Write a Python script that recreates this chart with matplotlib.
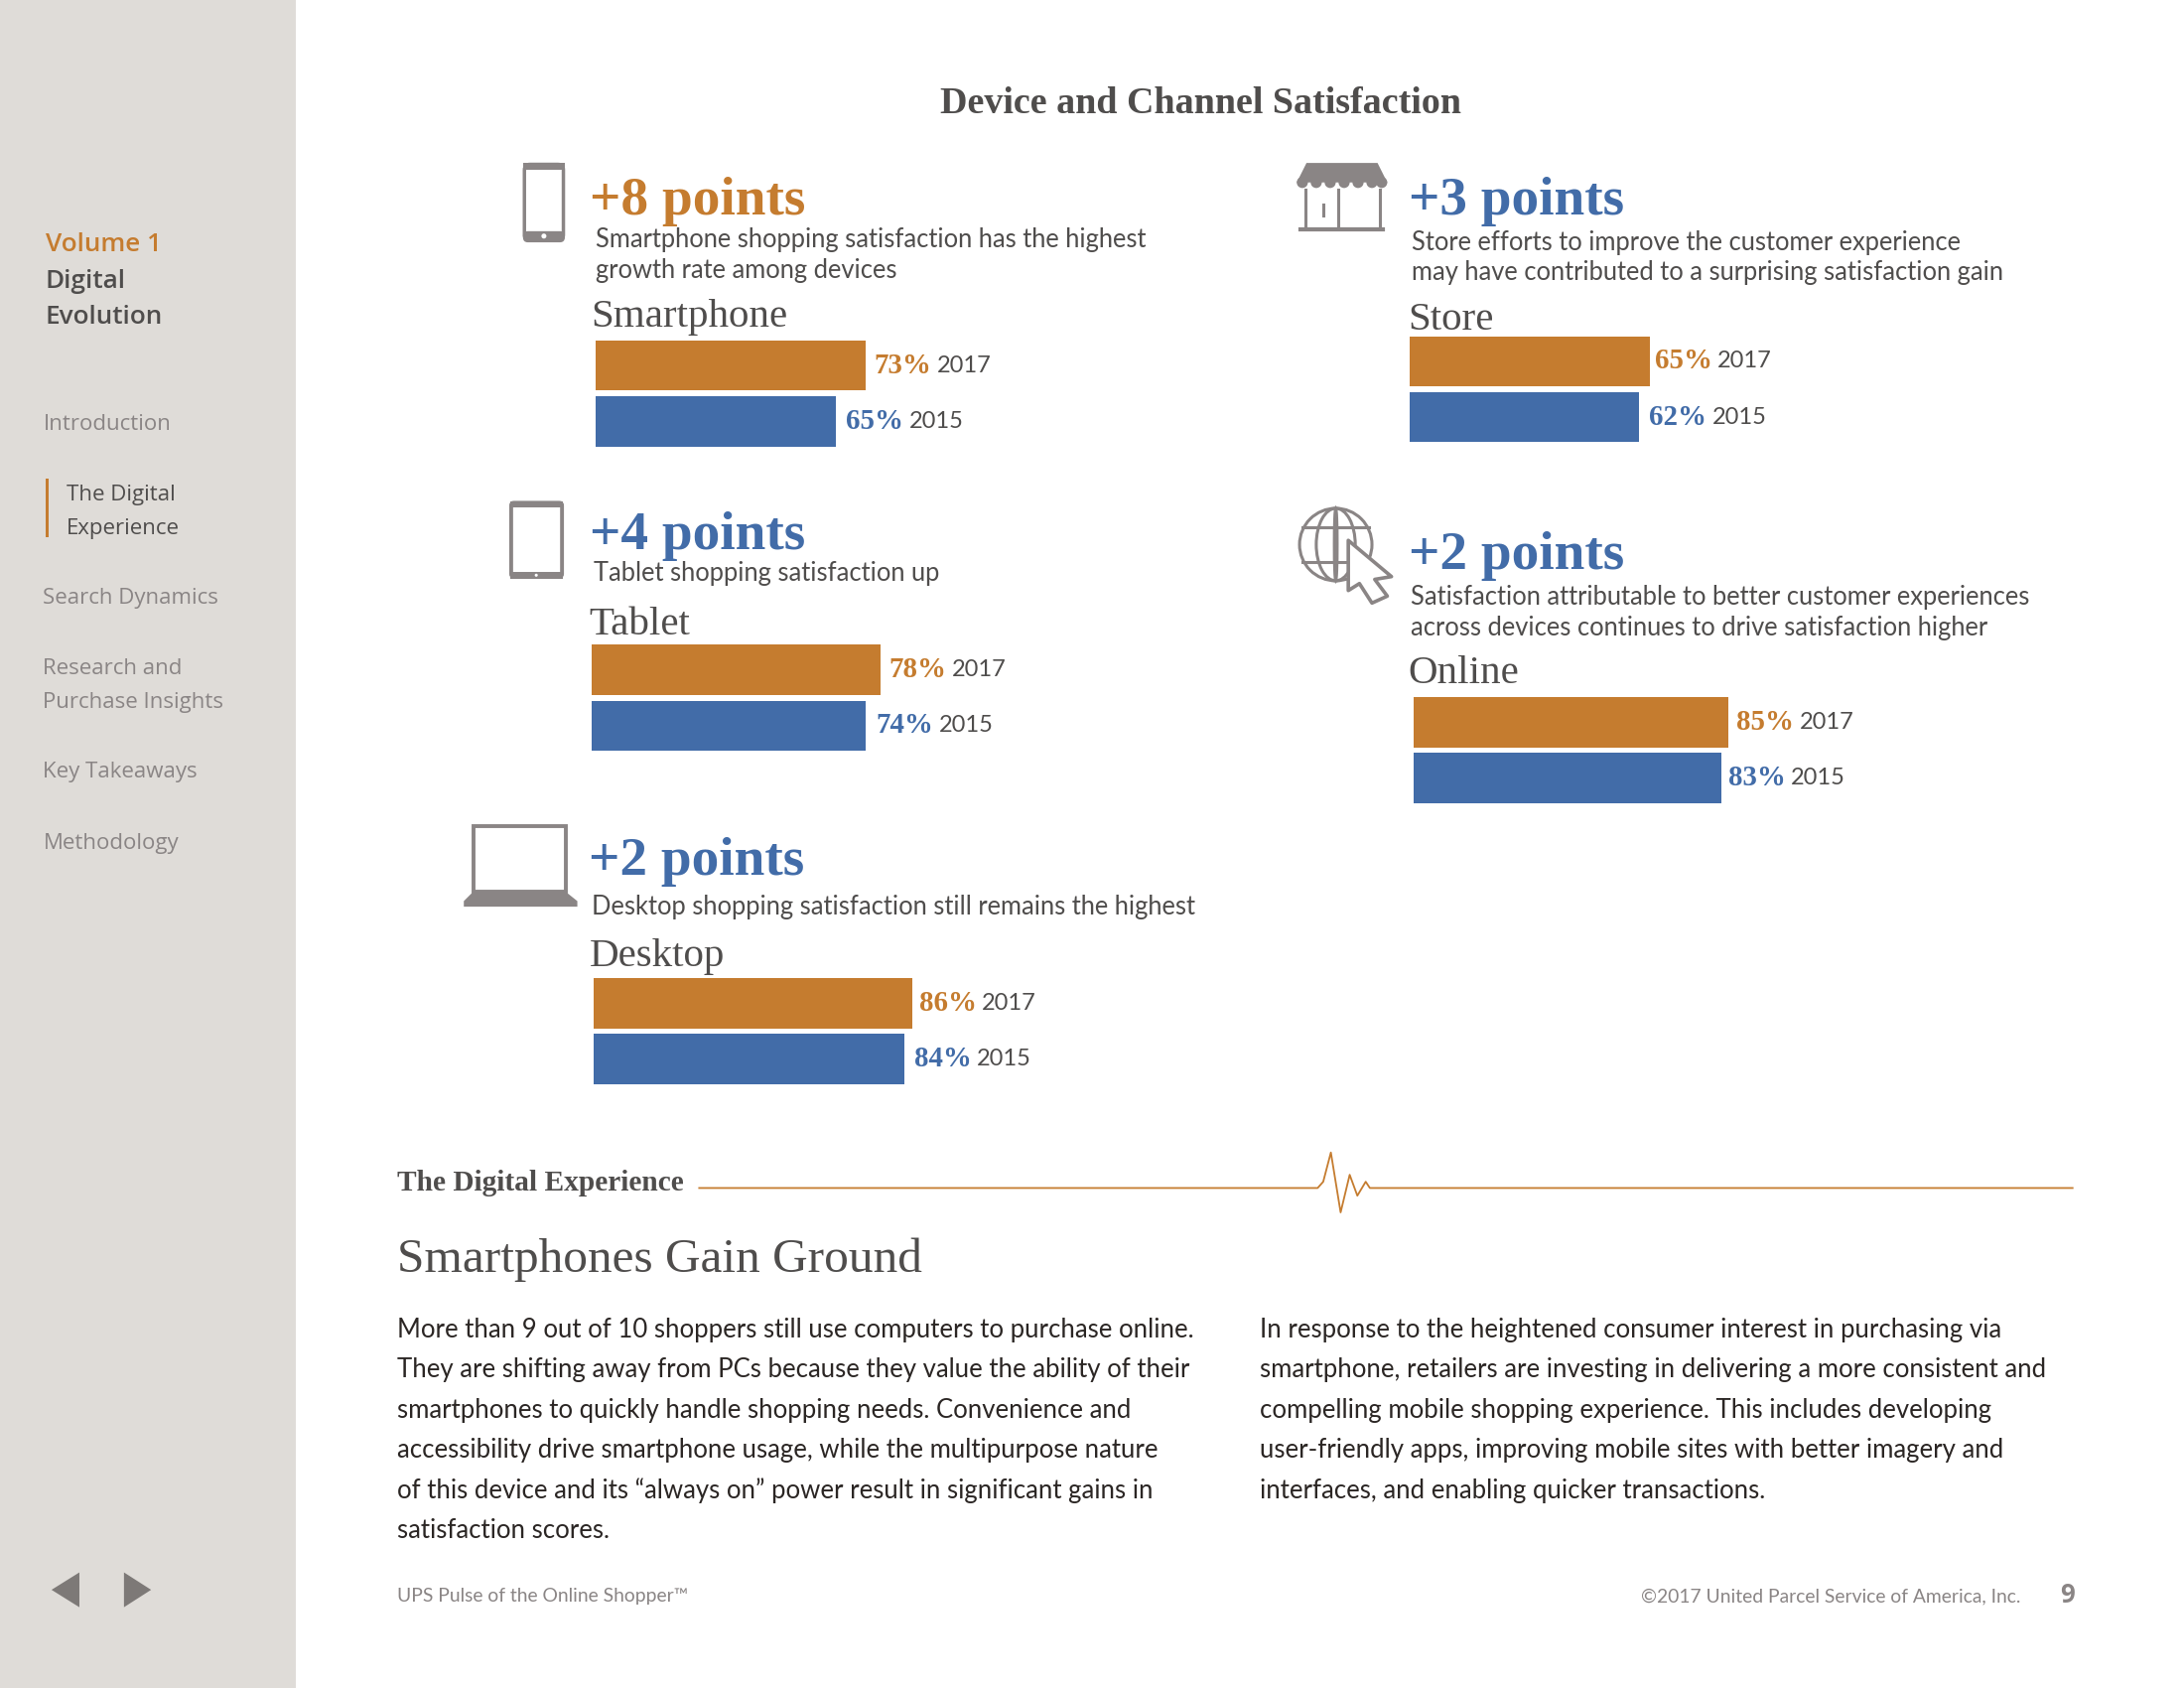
import matplotlib
matplotlib.use('Agg')
import matplotlib.pyplot as plt
from matplotlib.patches import Rectangle, FancyBboxPatch, Polygon, Circle, Ellipse

ORANGE = '#c57c2f'
BLUE = '#426ca8'
GREY = '#8a8585'
DARK = '#4f4d4c'
SERIF = 'Liberation Serif'
SANS = 'Lato'
SIDE = 'Open Sans'

# 数据
panels = ['Smartphone', 'Tablet', 'Desktop', 'Store', 'Online']
values_2017 = [73, 78, 86, 65, 85]
values_2015 = [65, 74, 84, 62, 83]
year_labels = ['2017', '2015']
gains = ['+8 points', '+4 points', '+2 points', '+3 points', '+2 points']
gain_colors = [ORANGE, BLUE, BLUE, BLUE, BLUE]
descriptions = [
    ['Smartphone shopping satisfaction has the highest', 'growth rate among devices'],
    ['Tablet shopping satisfaction up'],
    ['Desktop shopping satisfaction still remains the highest'],
    ['Store efforts to improve the customer experience', 'may have contributed to a surprising satisfaction gain'],
    ['Satisfaction attributable to better customer experiences', 'across devices continues to drive satisfaction higher'],
]

# 版面位置（按 1568x1212 的坐标）
bar_left = [427.5, 425, 426, 1012, 1015]
bar_top = [244.5, 463, 702.5, 241.5, 500.5]
gain_xy = [(423.5, 145), (423.5, 385), (422.5, 619), (1011.5, 145), (1011.5, 399)]
desc_xy = [(427.5, 172), (426, 412), (425, 651), (1013.5, 174), (1013, 429)]
name_xy = [(424.5, 228), (423, 449), (423, 687), (1011, 230), (1011, 484)]
pct_gap = [[6, 7], [5.5, 7], [5, 7], [3, 7], [5.5, 5]]

W, H = 1568, 1212
fig = plt.figure(figsize=(22, 17), dpi=100, facecolor='white')
bg = fig.add_axes([0, 0, 1, 1])
bg.set_xlim(0, W)
bg.set_ylim(H, 0)
bg.axis('off')

bg.add_patch(Rectangle((0, 0), 212.5, H, fc='#dfdcd8', ec='none'))


def txt(x, y, s, size, color=DARK, family=SANS, weight='normal', ha='left'):
    return bg.text(x, y, s, fontsize=size, color=color, family=family, weight=weight, ha=ha, va='center')


# 左侧导航
txt(32.5, 176, 'Volume 1', 18.8, ORANGE, SIDE, 'semibold')
txt(32.5, 202, 'Digital', 18.8, DARK, SIDE, 'semibold')
txt(32.5, 228, 'Evolution', 18.8, DARK, SIDE, 'semibold')
nav = [('Introduction', 31, 305), ('Search Dynamics', 31, 429.5), ('Research and', 31, 480.5),
       ('Purchase Insights', 31, 504.5), ('Key Takeaways', 31, 554.5), ('Methodology', 31, 606)]
for s, x, y in nav:
    txt(x, y, s, 16, GREY, SIDE)
txt(48, 355.5, 'The Digital', 16, DARK, SIDE)
txt(48, 379.5, 'Experience', 16, DARK, SIDE)
bg.add_patch(Rectangle((32.5, 343.5), 2.2, 42, fc=ORANGE, ec='none'))
bg.add_patch(Polygon([(57, 1129), (57, 1154), (37, 1141.5)], fc='#7d7977', ec='none'))
bg.add_patch(Polygon([(89, 1129), (89, 1154), (108.5, 1141.5)], fc='#7d7977', ec='none'))

txt(862, 74.5, 'Device and Channel Satisfaction', 27.4, DARK, SERIF, 'bold', ha='center')

# 各组的条形图
for i, name in enumerate(panels):
    txt(gain_xy[i][0], gain_xy[i][1], gains[i], 39.8, gain_colors[i], SERIF, 'bold')
    for j, line in enumerate(descriptions[i]):
        txt(desc_xy[i][0], desc_xy[i][1] + j * 22, line, 18.4, DARK)
    txt(name_xy[i][0], name_xy[i][1], name, 29.5, DARK, SERIF)

    ax = fig.add_axes([bar_left[i] / W, 1 - (bar_top[i] + 76) / H, 266 / W, 76 / H])
    ax.patch.set_alpha(0)
    vals = [values_2017[i], values_2015[i]]
    ax.barh([0, 1], vals, height=0.9, color=[ORANGE, BLUE])
    ax.set_xlim(0, 100)
    ax.set_ylim(1.45, -0.45)
    ax.axis('off')
    for k, v in enumerate(vals):
        c = ORANGE if k == 0 else BLUE
        p = ax.annotate('%d%%' % v, xy=(v, k), xytext=(pct_gap[i][k], 0), textcoords='offset points',
                        fontsize=20.8, color=c, family=SERIF, weight='bold', va='center', annotation_clip=False)
        ax.annotate(year_labels[k], xy=(1, 0.5), xycoords=p, xytext=(4, 0), textcoords='offset points',
                    fontsize=17, color=DARK, family=SANS, va='center', annotation_clip=False)

# 手机图标
bg.add_patch(FancyBboxPatch((376.5, 118), 28, 54.5, boxstyle='round,pad=0,rounding_size=4', fc='white', ec=GREY, lw=2.5))
bg.add_patch(FancyBboxPatch((375.5, 166), 30, 8, boxstyle='round,pad=0,rounding_size=3.5', fc=GREY, ec='none', zorder=1.6))
bg.add_patch(Rectangle((375.5, 117), 30, 5, fc=GREY, ec='none', zorder=2))
bg.add_patch(Circle((390.5, 169.5), 1.8, fc='white', ec='none', zorder=2))
# 平板图标
bg.add_patch(FancyBboxPatch((367, 361), 36.5, 53, boxstyle='round,pad=0,rounding_size=2', fc='white', ec=GREY, lw=2.8))
bg.add_patch(Rectangle((366, 360), 38, 4.5, fc=GREY, ec='none', zorder=2))
bg.add_patch(Rectangle((366, 410.5), 38, 5, fc=GREY, ec='none', zorder=2))
bg.add_patch(Circle((385, 413), 1.1, fc='white', ec='none', zorder=3))
# 笔记本图标
bg.add_patch(Rectangle((340, 593), 66, 47, fc='white', ec=GREY, lw=2.8))
bg.add_patch(Polygon([(339, 641), (407, 641), (414.5, 647), (414.5, 651), (333, 651), (333, 647)], fc=GREY, ec='none'))
# 商店图标
bg.add_patch(Polygon([(938, 117), (989, 117), (996, 131), (931, 131)], fc=GREY, ec='none'))
for sx in [935, 945, 955, 965, 975, 985, 992]:
    bg.add_patch(Circle((sx, 131), 4, fc=GREY, ec='none'))
bg.plot([937, 937, 991, 991], [136, 164, 164, 136], color=GREY, lw=2.2)
bg.plot([934, 993], [165, 165], color=GREY, lw=3)
bg.plot([960.5, 960.5], [136, 164], color=GREY, lw=2.2)
bg.plot([950, 950], [147, 155], color=GREY, lw=2.2)
# 地球和光标图标
for wh in [(52, 52), (28, 52), (2, 52)]:
    bg.add_patch(Ellipse((959, 391), wh[0], wh[1], fc='none', ec=GREY, lw=2.2))
bg.plot([935, 983], [378.5, 378.5], color=GREY, lw=2.2)
bg.plot([935, 983], [403.5, 403.5], color=GREY, lw=2.2)
bg.add_patch(Polygon([(968, 388), (999, 414), (987, 416), (996, 428), (985, 433), (976, 419), (968, 424)],
                     fc='white', ec=GREY, lw=2.6, joinstyle='round', zorder=3))

# 下半部分
txt(285, 849.5, 'The Digital Experience', 21.2, DARK, SERIF, 'bold')
pulse_x = [502, 946, 950, 955.5, 962.5, 969, 974.5, 980.5, 983.5, 1488]
pulse_y = [853, 853, 848.5, 827.5, 870.5, 843.5, 858.5, 848.5, 853, 853]
bg.plot(pulse_x, pulse_y, color=ORANGE, lw=1.3)
txt(285, 904.5, 'Smartphones Gain Ground', 35.6, DARK, SERIF)

left_col = [
    'More than 9 out of 10 shoppers still use computers to purchase online.',
    'They are shifting away from PCs because they value the ability of their',
    'smartphones to quickly handle shopping needs. Convenience and',
    'accessibility drive smartphone usage, while the multipurpose nature',
    'of this device and its \u201calways on\u201d power result in significant gains in',
    'satisfaction scores.',
]
right_col = [
    'In response to the heightened consumer interest in purchasing via',
    'smartphone, retailers are investing in delivering a more consistent and',
    'compelling mobile shopping experience. This includes developing',
    'user-friendly apps, improving mobile sites with better imagery and',
    'interfaces, and enabling quicker transactions.',
]
for j, line in enumerate(left_col):
    txt(285, 955 + j * 28.8, line, 18.5, '#2b2624')
for j, line in enumerate(right_col):
    txt(904.5, 955 + j * 28.8, line, 18.5, '#2b2624')

txt(285, 1146, 'UPS Pulse of the Online Shopper\u2122', 13.9, GREY)
txt(1451, 1146, '\u00a92017 United Parcel Service of America, Inc.', 13.9, GREY, ha='right')
txt(1484, 1145.5, '9', 18.5, GREY, SIDE, 'bold', ha='center')

fig.savefig('out.png', dpi=100)
